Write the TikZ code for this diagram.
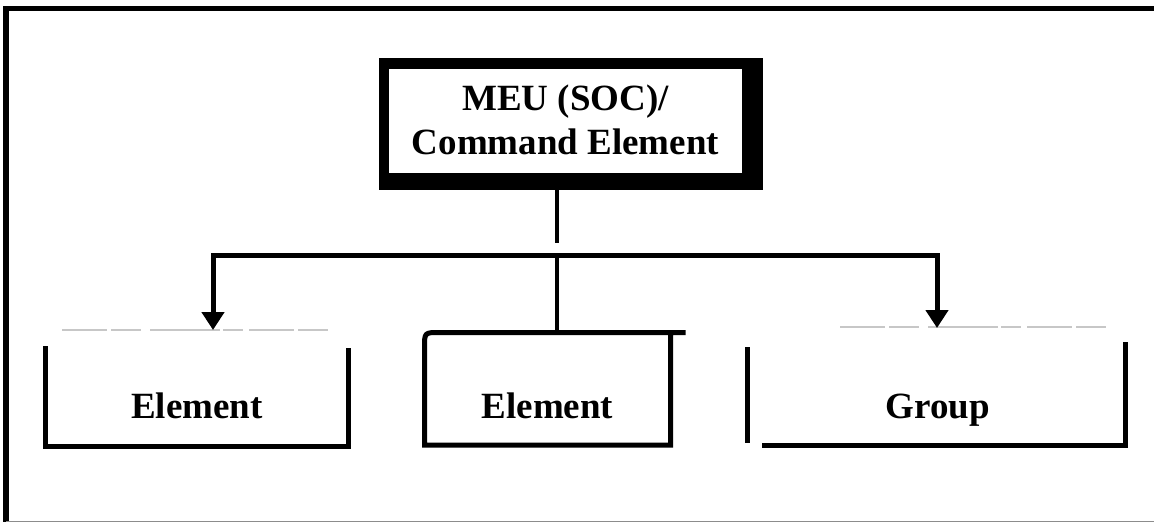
\documentclass[tikz,border=0pt]{standalone}
\usepackage{fontspec}
\setmainfont{Liberation Serif}
\usetikzlibrary{arrows.meta}
\begin{document}
\begin{tikzpicture}[x=1pt,y=-1pt,
  lbl/.style={font=\fontsize{37}{44}\selectfont\bfseries, inner sep=0pt},
  boxline/.style={line width=5pt, line cap=rect},
  faint/.style={draw=black!22, line width=1.1pt, dash pattern=on 45pt off 4pt on 30pt off 9pt on 70pt off 3pt on 20pt off 6pt},
  conn/.style={line width=4.5pt},
  tipc/.style={{Triangle[width=22pt,length=18pt]}-{Triangle[width=22pt,length=18pt]}},
  hidden/.style={inner sep=0pt, outer sep=0pt, draw=none}]
\useasboundingbox (0,0) rectangle (1154,523);
% outer frame
\draw[line width=5pt] (3,8.5) -- (1154,8.5);
\draw[line width=6pt] (6,6) -- (6,522);
\draw[draw=black!45, line width=1.5pt] (6,521.5) -- (1154,521.5);
% top box
\fill[black] (379,58) rectangle (763,190);
\node[hidden, fill=white, minimum width=353pt, minimum height=104pt] (meu) at (565.5,121) {};
\node[lbl, align=center] (meutext) at (565.5,120) {MEU (SOC)/\\Command Element};
% lower boxes (invisible frames)
\node[hidden, minimum width=302.5pt, minimum height=116pt] (b1) at (196.75,388) {};
\node[hidden, minimum width=246pt, minimum height=112.5pt] (b2) at (547.5,388.75) {};
\node[hidden, minimum width=378pt, minimum height=117.5pt] (b3) at (936,386.75) {};
% box outlines
\draw[faint] (62,330) -- (333,330);
\draw[boxline] (45.5,348) -- (45.5,446) -- (348,446) -- (348,350);
\draw[boxline] (683,332.5) -- (439.5,332.5) .. controls (424.5,332.5) .. (424.5,347.5) -- (424.5,445) -- (670.5,445) -- (670.5,332.5);
\draw[faint] (840,327) -- (1108,327);
\draw[boxline, line cap=butt] (747,347) -- (747,443);
\draw[boxline] (764,445.5) -- (1125,445.5) -- (1125,344);
% labels
\node[lbl, anchor=base] (t1) at (197,418) {Element};
\node[lbl, anchor=base] (t2) at (547.5,418) {Element};
\node[lbl, anchor=base] (t3) at (938,418) {Group};
% connectors
\coordinate (stemtop) at (557,190);
\coordinate (stem) at (557,243);
\coordinate (busL) at (213,255);
\coordinate (busM) at (557,255);
\coordinate (busR) at (937,255);
\draw[conn] (stemtop) -- (stem);
\draw[line width=5pt, tipc] (b1.north -| busL) -- (busL) -- (busR) -- (b3.north -| busR);
\draw[conn] (busM) -- (b2.north -| busM);
\end{tikzpicture}
\end{document}
